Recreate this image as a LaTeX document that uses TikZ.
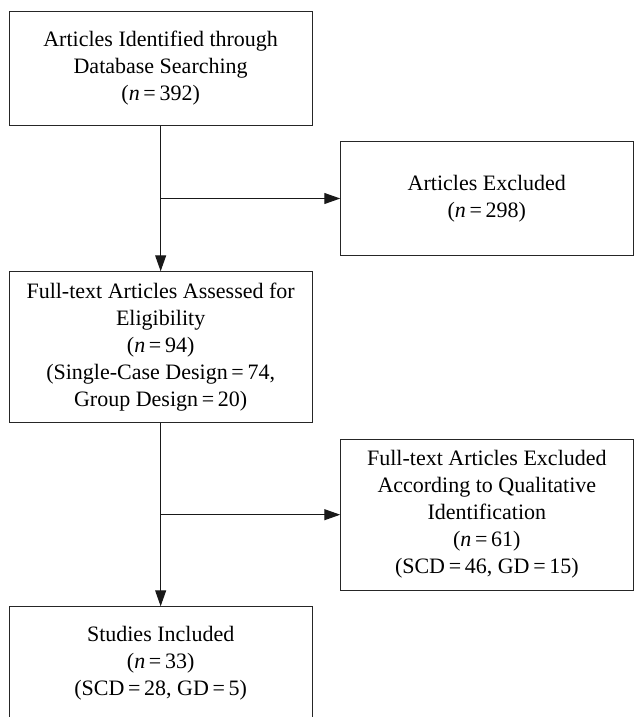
\documentclass[tikz,border=0pt]{standalone}
\usepackage{fontspec}
\setmainfont{Liberation Serif}
\usetikzlibrary{arrows.meta}
\newcommand{\nval}[1]{(\textit{n}\,=\,#1)}
\begin{document}
\begin{tikzpicture}[
        x=1pt, y=-1pt,
        box/.style={
            draw=black!85,
            line width=0.9pt,
            rectangle,
            inner sep=0pt,
            minimum width=303pt,
            align=center,
            font=\fontsize{22}{27}\selectfont
        },
        sidebox/.style={
            box,
            minimum width=292.3pt
        },
        arrow/.style={
            -{Triangle[length=16pt,width=11pt]},
            draw=black!90,
            line width=1.1pt
        }
    ]
        \useasboundingbox (0,0) rectangle (634,717);
        % Main column boxes
        \node[box, minimum height=113.6pt] (ident) at (160.65,68.5) {Articles Identified through\\Database Searching\\\nval{392}};
        \node[box, minimum height=151pt] (assess) at (160.65,347.2) {Full-text Articles Assessed for\\Eligibility\\\nval{94}\\(Single-Case Design\,=\,74,\\Group Design\,=\,20)};
        \node[box, minimum height=112.6pt] (incl) at (160.65,663) {Studies Included\\\nval{33}\\(SCD\,=\,28, GD\,=\,5)};
        
        % Exclusion boxes on the right
        \node[sidebox, minimum height=113.6pt] (excl) at (486.85,198.5) {Articles Excluded\\\nval{298}};
        \node[sidebox, minimum height=150.7pt] (fexcl) at (486.85,514.7) {Full-text Articles Excluded\\According to Qualitative\\Identification\\\nval{61}\\(SCD\,=\,46, GD\,=\,15)};
        
        % Arrows
        \draw[arrow] (ident.south) -- (assess.north);
        \draw[arrow] (ident.south |- excl.west) -- (excl.west);
        \draw[arrow] (assess.south) -- (incl.north);
        \draw[arrow] (assess.south |- fexcl.west) -- (fexcl.west);
        
    \end{tikzpicture}
\end{document}
